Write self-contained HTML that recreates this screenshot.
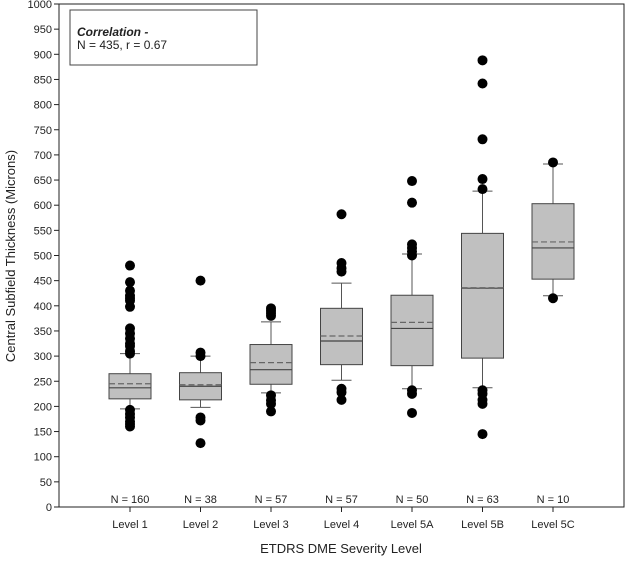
<!DOCTYPE html>
<html><head><meta charset="utf-8"><style>
body{margin:0;background:#fff}
text{font-family:"Liberation Sans",Arial,sans-serif;fill:#222}
</style></head><body>
<svg id="chart" width="625" height="559" viewBox="0 0 625 559" xmlns="http://www.w3.org/2000/svg">
<g id="plot"></g>
</svg>
<script>
const categories=["Level 1","Level 2","Level 3","Level 4","Level 5A","Level 5B","Level 5C"];
const counts=[160,38,57,57,50,63,10];
const q1=[215,213,244,283,281,296,453];
const medians=[237,240,273,330,355,435,515];
const means=[245,243,287,340,367,436,527];
const q3=[265,267,323,395,421,544,603];
const whiskLow=[195,198,227,252,235,237,420];
const whiskHigh=[305,300,368,445,503,628,682];
const outliers=[
 [480,447,430,420,415,410,398,355,345,335,325,320,310,305,193,185,178,170,165,160],
 [450,307,300,178,172,127],
 [395,390,385,380,222,212,205,190],
 [582,485,475,468,235,228,213],
 [648,605,522,515,508,500,232,225,187],
 [888,842,731,652,632,232,225,213,205,145],
 [685,415]
];
const yTicks=[0,50,100,150,200,250,300,350,400,450,500,550,600,650,700,750,800,850,900,950,1000];
const NS="http://www.w3.org/2000/svg";
const L=59,R=624,T=4,B=507;
const y=v=>B-(v/1000)*(B-T);
const x=i=>130+i*70.5;
const g=document.getElementById('plot');
function mk(tag,attrs,txt){const e=document.createElementNS(NS,tag);for(const k in attrs)e.setAttribute(k,attrs[k]);if(txt!==undefined)e.textContent=txt;g.appendChild(e);return e;}
let e;
e=mk('rect',{x:L,y:T,width:R-L,height:B-T,fill:'none',stroke:'#222','stroke-width':1});


yTicks.forEach(v=>{
 e=mk('line',{x1:L-5,x2:L,y1:y(v),y2:y(v),stroke:'#222'});
 
 
 e=mk('text',{x:L-7,y:y(v)+4,'text-anchor':'end','font-size':11},v);
 
 
});
categories.forEach((c,i)=>{
 const cx=x(i),w=42,cw=20;
 e=mk('line',{x1:cx,x2:cx,y1:B,y2:B+5,stroke:'#222'});
 
 
 e=mk('text',{x:cx,y:528,'text-anchor':'middle','font-size':11},c);
 
 
 e=mk('text',{x:cx,y:503,'text-anchor':'middle','font-size':11},'N = '+counts[i]);
 
 
 e=mk('line',{x1:cx,x2:cx,y1:y(whiskHigh[i]),y2:y(q3[i]),stroke:'#555'});
 
 
 e=mk('line',{x1:cx,x2:cx,y1:y(q1[i]),y2:y(whiskLow[i]),stroke:'#555'});
 
 
 e=mk('line',{x1:cx-cw/2,x2:cx+cw/2,y1:y(whiskHigh[i]),y2:y(whiskHigh[i]),stroke:'#555'});
 
 
 e=mk('line',{x1:cx-cw/2,x2:cx+cw/2,y1:y(whiskLow[i]),y2:y(whiskLow[i]),stroke:'#555'});
 
 
 e=mk('rect',{x:cx-w/2,y:y(q3[i]),width:w,height:y(q1[i])-y(q3[i]),fill:'#c0c0c0',stroke:'#444'});
 
 
 e=mk('line',{x1:cx-w/2,x2:cx+w/2,y1:y(medians[i]),y2:y(medians[i]),stroke:'#444','stroke-width':1.2});
 
 
 e=mk('line',{x1:cx-w/2,x2:cx+w/2,y1:y(means[i]),y2:y(means[i]),stroke:'#666','stroke-width':1.2,'stroke-dasharray':'6,3'});
 
 
 outliers[i].forEach(v=>{
  e=mk('circle',{cx:cx,cy:y(v),r:5,fill:'#000'});
  
  
 });
});
e=mk('rect',{x:70,y:10,width:187,height:55,fill:'#fff',stroke:'#444'});


e=mk('text',{x:77,y:36,'font-size':12,'font-weight':'bold','font-style':'italic'},'Correlation -');


e=mk('text',{x:77,y:49,'font-size':12},'N = 435, r = 0.67');


e=mk('text',{x:341,y:553,'text-anchor':'middle','font-size':13},'ETDRS DME Severity Level');


e=mk('text',{x:0,y:0,'text-anchor':'middle','font-size':13,transform:'translate(15,256) rotate(-90)'},'Central Subfield Thickness (Microns)');


</script>
</body></html>
